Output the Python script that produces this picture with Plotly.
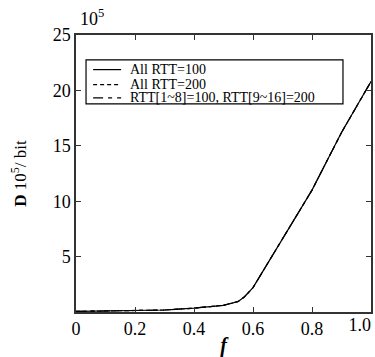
import plotly.graph_objects as go

f_vals = [0.0, 0.1, 0.2, 0.3, 0.4, 0.45, 0.5, 0.55, 0.57, 0.6, 0.625, 0.65, 0.7, 0.75, 0.8, 0.85, 0.9, 0.95, 1.0]
d_rtt100 = [0.05, 0.07, 0.1, 0.18, 0.35, 0.45, 0.6, 0.95, 1.35, 2.2, 3.3, 4.4, 6.6, 8.8, 11.0, 13.6, 16.2, 18.5, 20.8]
d_rtt200 = [0.05, 0.07, 0.1, 0.18, 0.34, 0.45, 0.6, 0.95, 1.33, 2.2, 3.3, 4.4, 6.6, 8.8, 11.0, 13.6, 16.2, 18.5, 20.8]
d_mixed = [0.05, 0.07, 0.1, 0.18, 0.35, 0.46, 0.61, 0.96, 1.35, 2.2, 3.3, 4.4, 6.6, 8.8, 11.0, 13.6, 16.2, 18.5, 20.8]
names = ["All RTT=100", "All RTT=200", "RTT[1~8]=100, RTT[9~16]=200"]
x_ticks = [0, 0.2, 0.4, 0.6, 0.8, 1.0]
x_tick_text = ["0", "0.2", "0.4", "0.6", "0.8", "1.0"]
y_ticks = [5, 10, 15, 20, 25]

font_family = "Liberation Serif"
dashes = ["solid", "4px,3px", "10px,5px,4px,5px"]

fig = go.Figure()
for ys, nm, dash in zip([d_rtt100, d_rtt200, d_mixed], names, dashes):
    fig.add_trace(go.Scatter(x=f_vals, y=ys, mode="lines", name=nm, showlegend=False,
                             line=dict(color="black", width=1.2, dash=dash)))
# invisible helper trace so the secondary x axis (last tick label) is drawn
fig.add_trace(go.Scatter(x=[f_vals[-1]], y=[d_rtt100[-1]], xaxis="x2", mode="markers",
                         marker=dict(opacity=0), showlegend=False, hoverinfo="skip"))

tickfont = dict(family=font_family, size=18, color="black")
axis_common = dict(showline=True, linecolor="#333", linewidth=1.5, mirror="ticks",
                   ticks="inside", ticklen=5, tickcolor="#333", showgrid=False, zeroline=False,
                   automargin=False, tickfont=tickfont)

fig.update_layout(
    width=375, height=357,
    margin=dict(l=76, r=4, t=35, b=45),
    paper_bgcolor="white", plot_bgcolor="white",
    font=dict(family=font_family, color="black"),
    xaxis=dict(range=[0, 1.0], tickvals=x_ticks, ticktext=x_tick_text[:-1] + [""],
               title=dict(text="<b><i>f</i></b>", font=dict(size=20, family=font_family), standoff=0),
               **axis_common),
    # last tick label ends at the frame edge, as in the original export
    xaxis2=dict(range=[0, 1.0], overlaying="x", anchor="y", side="bottom",
                tickvals=x_ticks[-1:], ticktext=x_tick_text[-1:], ticks="",
                ticklabelposition="outside left", showline=False, showgrid=False,
                zeroline=False, automargin=False, tickfont=tickfont),
    yaxis=dict(range=[0, 25], tickvals=y_ticks,
               title=dict(text="<b>D</b> 10<sup>5</sup>/ bit", font=dict(size=17, family=font_family), standoff=22),
               **axis_common),
    showlegend=False,
)

# custom compact legend (box, line samples, labels) in paper coordinates
box = dict(x0=0.034, x1=0.905, y0=0.751, y1=0.910)
fig.add_shape(type="rect", xref="paper", yref="paper", line=dict(color="black", width=1.2),
              fillcolor="white", **box)
row_y = [0.875, 0.821, 0.773]
for yy, nm, dash in zip(row_y, names, dashes):
    fig.add_shape(type="line", xref="paper", yref="paper", x0=0.058, x1=0.153, y0=yy, y1=yy,
                  line=dict(color="black", width=1.2, dash=dash))
    fig.add_annotation(text=nm, x=0.176, y=yy, xref="paper", yref="paper", xanchor="left",
                       yanchor="middle", showarrow=False,
                       font=dict(family=font_family, size=14, color="black"))

fig.add_annotation(text="10<sup>5</sup>", x=0.0, y=1.0, xref="paper", yref="paper",
                   xanchor="left", yanchor="bottom", yshift=4, xshift=2, showarrow=False,
                   font=dict(family=font_family, size=18, color="black"))

fig.write_html("out.html", config={"displayModeBar": False},
               post_script="document.body.style.margin='0';document.body.style.overflow='hidden';")
